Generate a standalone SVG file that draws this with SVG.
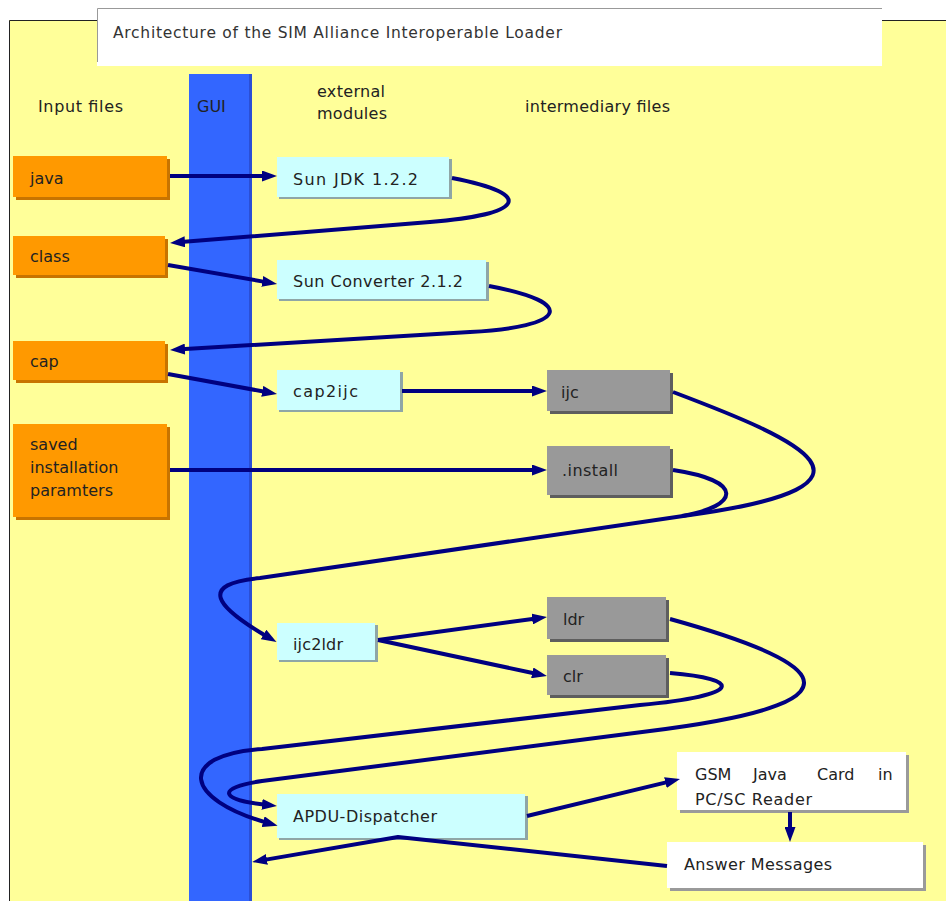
<svg xmlns="http://www.w3.org/2000/svg" width="946" height="901" viewBox="0 0 946 901">
  <defs>
    <style>
      .lbl { font-family: "DejaVu Sans", "Liberation Sans", sans-serif; font-size: 16px; fill: #222; }
      .title { font-family: "DejaVu Sans", "Liberation Sans", sans-serif; font-size: 15.5px; fill: #333; }
      .orange { fill: #FF9900; }
      .orange-sh { fill: #C87400; }
      .blue { fill: #CCFFFF; }
      .blue-sh { fill: #8FA6A6; }
      .gray { fill: #999999; }
      .gray-sh { fill: #5E5E5E; }
      .white { fill: #FFFFFF; }
      .white-sh { fill: #9A9A9A; }
      .conn { fill: none; stroke: #000080; stroke-width: 4; stroke-linejoin: round; }
    </style>
    <marker id="arrow" viewBox="0 0 15 11" markerWidth="15" markerHeight="11" markerUnits="userSpaceOnUse" refX="4" refY="5.5" orient="auto">
      <path d="M0,0 L15,5.5 L0,11 z" fill="#000080"/>
    </marker>
  </defs>

  <!-- page background -->
  <rect x="0" y="0" width="946" height="901" fill="#FFFFFF"/>
  <rect x="9" y="20" width="937" height="881" fill="#FFFF99"/>
  <path d="M9.5,901 L9.5,20.5 L946,20.5" fill="none" stroke="#222" stroke-width="1"/>

  <!-- title banner -->
  <g id="title">
    <rect x="97" y="8" width="785" height="58" fill="#FFFFFF"/>
    <path d="M97.5,62 L97.5,8.5 L882,8.5" fill="none" stroke="#999" stroke-width="1"/>
    <text class="title" x="113" y="37.5" textLength="449">Architecture of the SIM Alliance Interoperable Loader</text>
  </g>

  <!-- GUI column -->
  <g id="gui">
    <rect x="189" y="74" width="63" height="827" fill="#2B4FD6"/>
    <rect x="189" y="74" width="60" height="827" fill="#3366FF"/>
    <text class="lbl" x="197" y="112" fill="#1A2A80">GUI</text>
  </g>

  <!-- column headings -->
  <g id="headings">
    <text class="lbl" x="38" y="112" textLength="85">Input files</text>
    <text class="lbl" x="317" y="97" textLength="68">external</text>
    <text class="lbl" x="317" y="119" textLength="70">modules</text>
    <text class="lbl" x="525" y="112" textLength="145">intermediary files</text>
  </g>

  <!-- input files -->
  <g id="java">
    <rect class="orange-sh" x="16" y="159" width="154" height="41"/>
    <rect class="orange" x="13" y="156" width="154" height="41"/>
    <text class="lbl" x="30" y="184">java</text>
  </g>
  <g id="class">
    <rect class="orange-sh" x="16" y="239" width="152" height="39"/>
    <rect class="orange" x="13" y="236" width="152" height="39"/>
    <text class="lbl" x="30" y="262">class</text>
  </g>
  <g id="cap">
    <rect class="orange-sh" x="16" y="344" width="152" height="39"/>
    <rect class="orange" x="13" y="341" width="152" height="39"/>
    <text class="lbl" x="30" y="367">cap</text>
  </g>
  <g id="saved">
    <rect class="orange-sh" x="16" y="427" width="154" height="93"/>
    <rect class="orange" x="13" y="424" width="154" height="93"/>
    <text class="lbl" x="30" y="450">saved</text>
    <text class="lbl" x="30" y="473">installation</text>
    <text class="lbl" x="30" y="496">paramters</text>
  </g>

  <!-- external modules -->
  <g id="sunjdk">
    <rect class="blue-sh" x="279" y="159" width="173" height="40"/>
    <rect class="blue" x="277" y="157" width="172" height="40"/>
    <text class="lbl" x="293" y="185" textLength="125">Sun JDK 1.2.2</text>
  </g>
  <g id="sunconverter">
    <rect class="blue-sh" x="279" y="262" width="210" height="39"/>
    <rect class="blue" x="277" y="260" width="209" height="39"/>
    <text class="lbl" x="293" y="287" textLength="170">Sun Converter 2.1.2</text>
  </g>
  <g id="cap2ijc">
    <rect class="blue-sh" x="279" y="372" width="124" height="40"/>
    <rect class="blue" x="277" y="370" width="123" height="40"/>
    <text class="lbl" x="293" y="397" textLength="65">cap2ijc</text>
  </g>
  <g id="ijc2ldr">
    <rect class="blue-sh" x="279" y="625" width="99" height="37"/>
    <rect class="blue" x="277" y="623" width="98" height="37"/>
    <text class="lbl" x="293" y="650" textLength="50">ijc2ldr</text>
  </g>
  <g id="apdu">
    <rect class="blue-sh" x="279" y="796" width="249" height="44"/>
    <rect class="blue" x="277" y="794" width="248" height="44"/>
    <text class="lbl" x="293" y="822" textLength="144">APDU-Dispatcher</text>
  </g>

  <!-- intermediary files -->
  <g id="ijc">
    <rect class="gray-sh" x="550" y="373" width="123" height="41"/>
    <rect class="gray" x="547" y="370" width="123" height="41"/>
    <text class="lbl" x="561" y="398">ijc</text>
  </g>
  <g id="install">
    <rect class="gray-sh" x="550" y="449" width="123" height="49"/>
    <rect class="gray" x="547" y="446" width="123" height="49"/>
    <text class="lbl" x="562" y="476" textLength="56">.install</text>
  </g>
  <g id="ldr">
    <rect class="gray-sh" x="550" y="600" width="119" height="42"/>
    <rect class="gray" x="547" y="597" width="119" height="42"/>
    <text class="lbl" x="563" y="625">ldr</text>
  </g>
  <g id="clr">
    <rect class="gray-sh" x="550" y="658" width="119" height="40"/>
    <rect class="gray" x="547" y="655" width="119" height="40"/>
    <text class="lbl" x="563" y="682">clr</text>
  </g>

  <!-- card side -->
  <g id="gsmcard">
    <rect class="white-sh" x="680" y="755" width="229" height="58"/>
    <rect class="white" x="677" y="752" width="229" height="58"/>
    <text class="lbl"><tspan x="695" y="780">GSM</tspan><tspan x="753" y="780">Java</tspan><tspan x="817" y="780">Card</tspan><tspan x="878" y="780">in</tspan></text>
    <text class="lbl" x="695" y="805" textLength="117">PC/SC Reader</text>
  </g>
  <g id="answers">
    <rect class="white-sh" x="670" y="845" width="256" height="46"/>
    <rect class="white" x="667" y="842" width="256" height="46"/>
    <text class="lbl" x="684" y="870" textLength="148">Answer Messages</text>
  </g>

  <!-- connectors -->
  <g id="connectors">
    <path class="conn" d="M170,176 L266,176" marker-end="url(#arrow)"/>
    <path class="conn" d="M452,178 C540,195 520,215 430,222 L181,242.1" marker-end="url(#arrow)"/>
    <path class="conn" d="M168,265 L266.2,282.1" marker-end="url(#arrow)"/>
    <path class="conn" d="M489,286 C580,303 565,327 470,332 L181,349.3" marker-end="url(#arrow)"/>
    <path class="conn" d="M168,374 L266.2,392" marker-end="url(#arrow)"/>
    <path class="conn" d="M402,391 L536,391" marker-end="url(#arrow)"/>
    <path class="conn" d="M170,470 L536,470" marker-end="url(#arrow)"/>
    <path class="conn" d="M673,392 C800,440 905,485 690,515 L260,578 C198,584 215,606 267,636.5" marker-end="url(#arrow)"/>
    <path class="conn" d="M673,470 C745,481 740,506 682,516"/>
    <path class="conn" d="M378,640 L536.1,618.5" marker-end="url(#arrow)"/>
    <path class="conn" d="M378,640 L536.2,673.7" marker-end="url(#arrow)"/>
    <path class="conn" d="M670,619 C800,655 900,700 650,731 L262,781 C215,788 220,800 266,804.8" marker-end="url(#arrow)"/>
    <path class="conn" d="M670,673 C742,679 745,695 640,705 L262,749 C175,755 185,800 267,822.7" marker-end="url(#arrow)"/>
    <path class="conn" d="M527,816 L669.3,781.6" marker-end="url(#arrow)"/>
    <path class="conn" d="M790,812 L790,831" marker-end="url(#arrow)"/>
    <path class="conn" d="M667,866 L398,837 L263,860.1" marker-end="url(#arrow)"/>
  </g>
</svg>
